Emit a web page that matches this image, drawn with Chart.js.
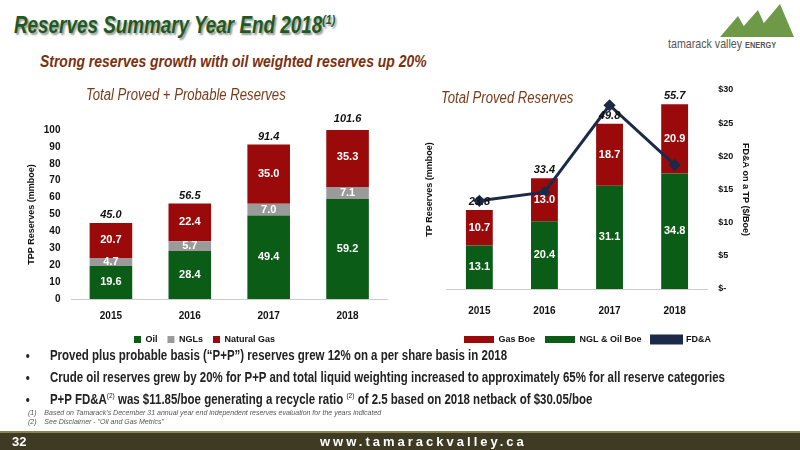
<!DOCTYPE html>
<html><head><meta charset="utf-8">
<script src="https://cdn.jsdelivr.net/npm/chart.js@4"></script>
<style>
body{margin:0;width:800px;height:450px;position:relative;background:#fff;font-family:"Liberation Sans",sans-serif;overflow:hidden}
.abs{position:absolute;white-space:nowrap}
.n{transform:scaleX(0.82);transform-origin:0 0}
#title{left:14px;top:12px;font-size:23px;font-weight:bold;font-style:italic;color:#1e5a1e;text-shadow:2px 2px 2px #999}
#sub{left:40px;top:52px;font-size:17px;font-weight:bold;font-style:italic;color:#7a3010}
.ct{font-size:16px;font-style:italic;color:#7a3a1a}
ul{left:22px;top:347px;margin:0;padding-left:20px;font-size:14px;font-weight:bold;color:#222}
li{margin:0 0 6px 0;padding-left:14px}
sup{font-size:8px;font-weight:normal}
#fn{left:28px;top:408px;font-size:7px;font-style:italic;color:#555;line-height:9px}
#foot{left:0;top:431px;width:800px;height:19px;background:#3e3a24;border-top:2px solid #8a8450;color:#fff;font-size:13px;font-weight:bold}
</style></head><body>
<div class="abs n" id="title">Reserves Summary Year End 2018<sup style="font-size:13px;font-weight:bold">(1)</sup></div>
<div class="abs n" id="sub">Strong reserves growth with oil weighted reserves up 20%</div>
<svg class="abs" style="left:720px;top:4px" width="75" height="34"><polygon points="0,33 18,12 30,33" fill="#6e9a48"/><polygon points="14,33 38,6 50,33" fill="#6e9a48"/><polygon points="32,33 60,0 74,33" fill="#6e9a48"/></svg>
<div class="abs n" style="left:668px;top:36px;font-size:13px;color:#555">tamarack valley <b style="font-size:9px">ENERGY</b></div>
<div class="abs" style="left:22px;top:102px;width:375px;height:252px"><canvas id="a"></canvas></div>
<div class="abs" style="left:420px;top:80px;width:375px;height:274px"><canvas id="b"></canvas></div>
<div class="abs ct n" style="left:86px;top:86px">Total Proved + Probable Reserves</div>
<div class="abs ct n" style="left:441px;top:89px">Total Proved Reserves</div>
<ul class="abs n">
<li>Proved plus probable basis (“P+P”) reserves grew 12% on a per share basis in 2018</li>
<li>Crude oil reserves grew by 20% for P+P and total liquid weighting increased to approximately 65% for all reserve categories</li>
<li>P+P FD&amp;A<sup>(2)</sup> was $11.85/boe generating a recycle ratio <sup>(2)</sup> of 2.5 based on 2018 netback of $30.05/boe</li>
</ul>
<div class="abs" id="fn">(1)&nbsp;&nbsp;&nbsp;&nbsp;Based on Tamarack's December 31 annual year end independent reserves evaluation for the years indicated<br>(2)&nbsp;&nbsp;&nbsp;&nbsp;See Disclaimer - "Oil and Gas Metrics"</div>
<div class="abs" id="foot"><span style="position:absolute;left:12px;top:1px">32</span><span style="position:absolute;left:320px;top:1px;letter-spacing:3px">www.tamarackvalley.ca</span></div>
<script>
const years=['2015','2016','2017','2018'];
const ppOil=[19.6,28.4,49.4,59.2];
const ppNgl=[4.7,5.7,7.0,7.1];
const ppGas=[20.7,22.4,35.0,35.3];
const ppTotal=['45.0','56.5','91.4','101.6'];
const tpLiquid=[13.1,20.4,31.1,34.8];
const tpGas=[10.7,13.0,18.7,20.9];
const tpTotal=['23.8','33.4','49.8','55.7'];
const fda=[13.3,14.6,27.7,18.7];
const fam='"Liberation Sans",sans-serif';
Chart.defaults.font.family=fam;Chart.defaults.font.weight='bold';Chart.defaults.color='#111';
Chart.defaults.animation=false;Chart.defaults.responsive=true;Chart.defaults.maintainAspectRatio=false;
const GREEN='#0a5c16',GREY='#9a9a9a',RED='#9b0a0a';
function labelPlugin(totals,barSets,topIdx){return{id:'lbl',afterDatasetsDraw(c){const x=c.ctx;x.save();x.textAlign='center';x.textBaseline='middle';
barSets.forEach(di=>{const m=c.getDatasetMeta(di);m.data.forEach((el,i)=>{x.fillStyle='#fff';x.font='bold 11px '+fam;x.fillText(c.data.datasets[di].data[i].toFixed(1),el.x,(el.y+el.base)/2);});});
const mt=c.getDatasetMeta(topIdx);mt.data.forEach((el,i)=>{x.fillStyle='#111';x.font='italic bold 11px '+fam;x.fillText(totals[i],el.x,el.y-8);});x.restore();}}}
new Chart(document.getElementById('a'),{type:'bar',data:{labels:years,datasets:[
{label:'Oil',data:ppOil,backgroundColor:GREEN},{label:'NGLs',data:ppNgl,backgroundColor:GREY},{label:'Natural Gas',data:ppGas,backgroundColor:RED}]},
options:{layout:{padding:{top:28,right:10}},datasets:{bar:{categoryPercentage:0.75,barPercentage:0.72}},
plugins:{legend:{position:'bottom',labels:{boxWidth:7,boxHeight:7,font:{size:9}}},tooltip:{enabled:false}},
scales:{x:{stacked:true,grid:{display:false},border:{color:'#ccc'},ticks:{font:{size:10}}},
y:{stacked:true,min:0,max:100,ticks:{stepSize:10,font:{size:10}},grid:{display:false},border:{display:false},title:{display:true,text:'TPP Reserves (mmboe)',font:{size:9}}}}},
plugins:[labelPlugin(ppTotal,[0,1,2],2)]});
new Chart(document.getElementById('b'),{type:'bar',data:{labels:years,datasets:[
{label:'NGL & Oil Boe',data:tpLiquid,backgroundColor:GREEN,order:2},
{label:'Gas Boe',data:tpGas,backgroundColor:RED,order:2},
{label:'FD&A',type:'line',data:fda,yAxisID:'y2',borderColor:'#1a2a48',backgroundColor:'#1a2a48',borderWidth:3,pointStyle:'rectRot',pointRadius:4,order:1}]},
options:{layout:{padding:{top:10,left:0,right:40,bottom:0}},datasets:{bar:{categoryPercentage:0.75,barPercentage:0.55}},
plugins:{legend:{position:'bottom',labels:{boxWidth:30,boxHeight:7,font:{size:9},sort:(a,b)=>[1,0,2].indexOf(a.datasetIndex)-[1,0,2].indexOf(b.datasetIndex)}},tooltip:{enabled:false}},
scales:{x:{stacked:true,grid:{display:false},border:{color:'#ccc'},ticks:{font:{size:10},padding:8}},
y:{stacked:true,min:0,max:60,ticks:{display:false},grid:{display:false},border:{display:false},title:{display:true,text:'TP Reserves (mmboe)',font:{size:9}}},
y2:{position:'right',min:0,max:30,ticks:{stepSize:5,font:{size:9},callback:v=>v===0?'$-':'$'+v},grid:{display:false},border:{display:false},title:{display:true,text:'FD&A on a TP ($/Boe)',font:{size:9}}}}},
plugins:[labelPlugin(tpTotal,[0,1],1)]});
</script></body></html>
